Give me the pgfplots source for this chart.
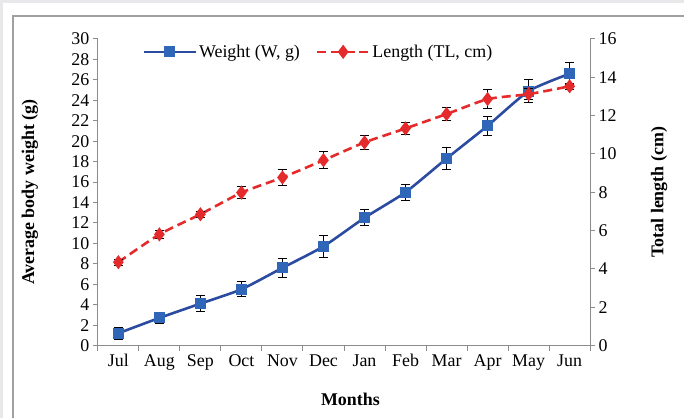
\documentclass[border=0pt]{standalone}
\usepackage{fontspec}
\setmainfont{Liberation Serif}
\usepackage{pgfplots}
\pgfplotsset{compat=1.18}
\definecolor{wblue}{HTML}{2B4BA0}
\definecolor{mblue}{HTML}{2F66B8}
\definecolor{lred}{HTML}{E42A2A}
\definecolor{bggray}{HTML}{E8E8EA}
\definecolor{framegray}{HTML}{A0A0A0}
\definecolor{axgray}{HTML}{8C8C8C}
\newcommand{\chfont}{\fontsize{18}{21}\selectfont}
\pgfplotsset{
  common/.style={
    scale only axis, width=493bp, height=307bp,
    at={(98bp,-346bp)}, anchor=south west,
    xmin=-0.5, xmax=11.5,
    tick align=outside, major tick length=5bp,
    axis line style={axgray, line width=1bp},
    tick style={axgray, line width=1bp},
    ticklabel style={font=\chfont, text=black},
    label style={font=\chfont\bfseries},
    /pgf/number format/assume math mode=true,
    clip=false,
  },
  errs/.style={
    error bars/.cd, y dir=both, y explicit,
    error bar style={black, line width=1bp, solid},
    error mark options={rotate=90, mark size=4.5bp, black, line width=1bp, solid},
  },
  wstyle/.style={wblue, line width=2.6bp, mark=square*, mark size=4.2bp,
    mark options={fill=mblue, draw=mblue, solid}},
  lstyle/.style={lred, line width=2.6bp, dash pattern=on 9bp off 5bp,
    mark=diamond*, mark size=5bp, mark options={fill=lred, draw=lred, solid}},
}
\begin{document}
\begin{tikzpicture}[x=1bp,y=1bp]
\fill[bggray] (0,0) rectangle (685,-419);
\fill[white] (3,-3) rectangle (685,-419);
\draw[framegray, line width=2bp] (13,-419) -- (13,-16) -- (685,-16);
\useasboundingbox (0,0) rectangle (685,-419);
\begin{axis}[common,
  ymin=0, ymax=30, ytick={0,2,...,30},
  axis x line*=bottom, axis y line*=left,
  xtick={-0.5,0.5,...,11.5},
  x tick label as interval,
  xticklabels={Jul,Aug,Sep,Oct,Nov,Dec,Jan,Feb,Mar,Apr,May,Jun},
  xticklabel style={text height=12bp, text depth=4bp},
  ylabel={Average body weight (g)},
  ylabel style={at={(axis description cs:-0.138,0.5)}, anchor=center},
  xlabel={Months},
  xlabel style={at={(axis description cs:0.513,-0.176)}, anchor=center},
]
\addplot[wstyle, smooth, tension=0.35, errs] table[x=x, y=y, y error=e] {
x y e
0 1.2 0.6
1 2.7 0.55
2 4.1 0.75
3 5.5 0.75
4 7.6 0.95
5 9.7 1.05
6 12.5 0.8
7 15.0 0.8
8 18.3 1.1
9 21.5 0.95
10 24.9 1.1
11 26.6 1.1
};
\end{axis}
\begin{axis}[common,
  ymin=0, ymax=16, ytick={0,2,...,16},
  axis x line=none, axis y line*=right,
  ylabel={Total length (cm)},
  ylabel style={at={(axis description cs:1.14,0.5)}, anchor=center, rotate=0},
  legend style={at={(axis description cs:0.448,0.958)}, anchor=center,
    draw=none, fill=none, font=\chfont, legend columns=2,
    /tikz/every even column/.append style={column sep=14bp}},
  legend image code/.code={
    \draw[#1, mark repeat=2, mark phase=2] plot coordinates {(0bp,0bp) (26bp,0bp) (52bp,0bp)};
  },
]
\addlegendimage{wstyle}
\addlegendentry{Weight (W, g)}
\addplot[lstyle, smooth, tension=0.35, errs] table[x=x, y=y, y error=e] {
x y e
0 4.35 0.15
1 5.8 0.2
2 6.85 0.15
3 7.98 0.3
4 8.77 0.43
5 9.67 0.45
6 10.6 0.38
7 11.33 0.33
8 12.08 0.35
9 12.86 0.5
10 13.12 0.3
11 13.53 0.15
};
\addlegendentry{Length (TL, cm)}
\end{axis}
\end{tikzpicture}
\end{document}
